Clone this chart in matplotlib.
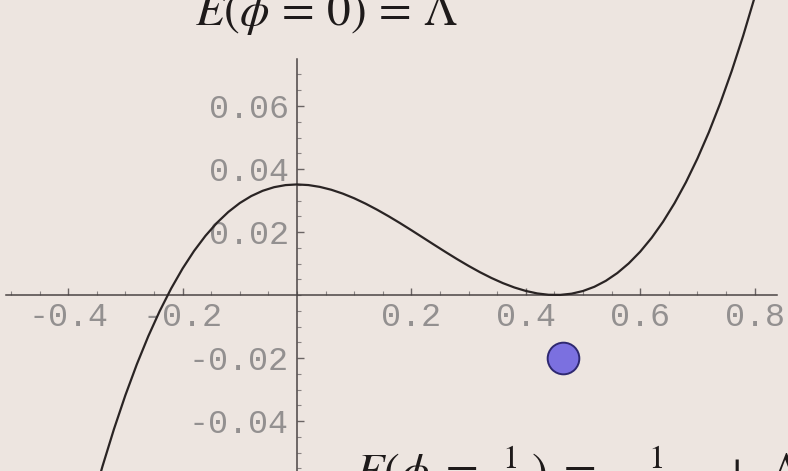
#!/usr/bin/env python3
"""
plot.py — cubic vacuum energy E(phi) with the false/true vacuum marked
Saves out.png (788x471)
"""

import matplotlib
matplotlib.use("Agg")
import matplotlib.pyplot as plt
import matplotlib.ticker as ticker

BG = "#ede5e0"
INK = "#2a2424"
LABEL = "#939090"

# E(phi) sampled along the field
phi = [-0.36, -0.34, -0.32, -0.30, -0.28, -0.26, -0.24, -0.22, -0.20, -0.18,
       -0.16, -0.14, -0.12, -0.10, -0.08, -0.06, -0.04, -0.02, 0.00, 0.02,
       0.04, 0.06, 0.08, 0.10, 0.12, 0.14, 0.16, 0.18, 0.20, 0.22,
       0.24, 0.26, 0.28, 0.30, 0.32, 0.34, 0.36, 0.38, 0.40, 0.42,
       0.44, 0.46, 0.48, 0.50, 0.52, 0.54, 0.56, 0.58, 0.60, 0.62,
       0.64, 0.66, 0.68, 0.70, 0.72, 0.74, 0.76, 0.78, 0.80, 0.82]
energy = [-0.06717, -0.05436, -0.04259, -0.03181, -0.02200, -0.01310, -0.00510, 0.00206, 0.00840, 0.01397,
          0.01879, 0.02291, 0.02637, 0.02919, 0.03141, 0.03308, 0.03423, 0.03489, 0.03510, 0.03490,
          0.03432, 0.03341, 0.03219, 0.03071, 0.02899, 0.02708, 0.02502, 0.02284, 0.02057, 0.01825,
          0.01592, 0.01362, 0.01138, 0.00924, 0.00723, 0.00540, 0.00377, 0.00239, 0.00129, 0.00050,
          0.00007, 0.00003, 0.00042, 0.00127, 0.00262, 0.00451, 0.00697, 0.01004, 0.01375, 0.01815,
          0.02327, 0.02914, 0.03580, 0.04330, 0.05165, 0.06091, 0.07111, 0.08228, 0.09446, 0.10769]

# marker below the second minimum
dot_phi = [0.465]
dot_e = [-0.020]

x_ticks = [-0.4, -0.2, 0.2, 0.4, 0.6, 0.8]
x_tick_labels = ["-0.4", "-0.2", "0.2", "0.4", "0.6", "0.8"]
y_ticks = [-0.04, -0.02, 0.02, 0.04, 0.06]
y_tick_labels = ["-0.04", "-0.02", "0.02", "0.04", "0.06"]

# axis extents (where the drawn axes start and stop)
x_axis_span = (-0.508, 0.839)
y_axis_span = (-0.0559, 0.075)

W, H = 788, 471
fig = plt.figure(figsize=(W / 100, H / 100), dpi=100)
fig.patch.set_facecolor(BG)
ax = fig.add_axes([0, 0, 1, 1])
ax.set_facecolor(BG)

ax.set_xlim(-0.5192, 0.8584)
ax.set_ylim(-0.05587, 0.09365)

# Mathematica-like axes crossing at the origin
for side in ("top", "right"):
    ax.spines[side].set_visible(False)
ax.spines["bottom"].set_position(("data", 0))
ax.spines["left"].set_position(("data", 0))
ax.spines["bottom"].set_bounds(*x_axis_span)
ax.spines["left"].set_bounds(*y_axis_span)
for side in ("bottom", "left"):
    ax.spines[side].set_color("#4a4444")
    ax.spines[side].set_linewidth(1.1)

# minor ticks only along the drawn part of each axis
x_minor = [k * 0.05 for k in range(-10, 17) if x_axis_span[0] <= k * 0.05 <= x_axis_span[1]]
y_minor = [k * 0.005 for k in range(-11, 16) if y_axis_span[0] <= k * 0.005 <= y_axis_span[1] - 1e-4]

ax.xaxis.set_major_locator(ticker.FixedLocator(x_ticks))
ax.xaxis.set_major_formatter(ticker.FixedFormatter(x_tick_labels))
ax.xaxis.set_minor_locator(ticker.FixedLocator(x_minor))
ax.yaxis.set_major_locator(ticker.FixedLocator(y_ticks))
ax.yaxis.set_major_formatter(ticker.FixedFormatter(y_tick_labels))
ax.yaxis.set_minor_locator(ticker.FixedLocator(y_minor))

ax.tick_params(axis="x", which="major", direction="in", length=5, width=1,
               color="#6a6464", pad=5, labelsize=24, labelcolor=LABEL)
ax.tick_params(axis="y", which="major", direction="in", length=5, width=1,
               color="#6a6464", pad=6, labelsize=24, labelcolor=LABEL)
ax.tick_params(which="minor", direction="in", length=3, width=0.8, color="#8a8484")
for lbl in ax.get_xticklabels() + ax.get_yticklabels():
    lbl.set_family("Liberation Mono")

ax.plot(phi, energy, color=INK, linewidth=1.6, zorder=5)
ax.scatter(dot_phi, dot_e, s=520, color="#7b70e0", edgecolor="#2e2870",
           linewidth=1.4, zorder=6)

# formulas for the two vacua, partly running off the edges
plt.rcParams["mathtext.fontset"] = "stix"
fig.text(195 / W, 1 - 25 / H, r"$E(\phi\,=\,0)\,=\,\Lambda$",
         fontsize=34, color="#1e1a1a", ha="left", va="baseline")
fig.text(355 / W, 1 - 487 / H,
         r"$E(\phi\;=\;\frac{1}{2\lambda})\;=\;\frac{1}{24\,\lambda^{3}\,g}\,+\;\Lambda'$",
         fontsize=34, color="#1e1a1a", ha="left", va="baseline")

fig.savefig("out.png", dpi=100, facecolor=BG)
plt.close(fig)
